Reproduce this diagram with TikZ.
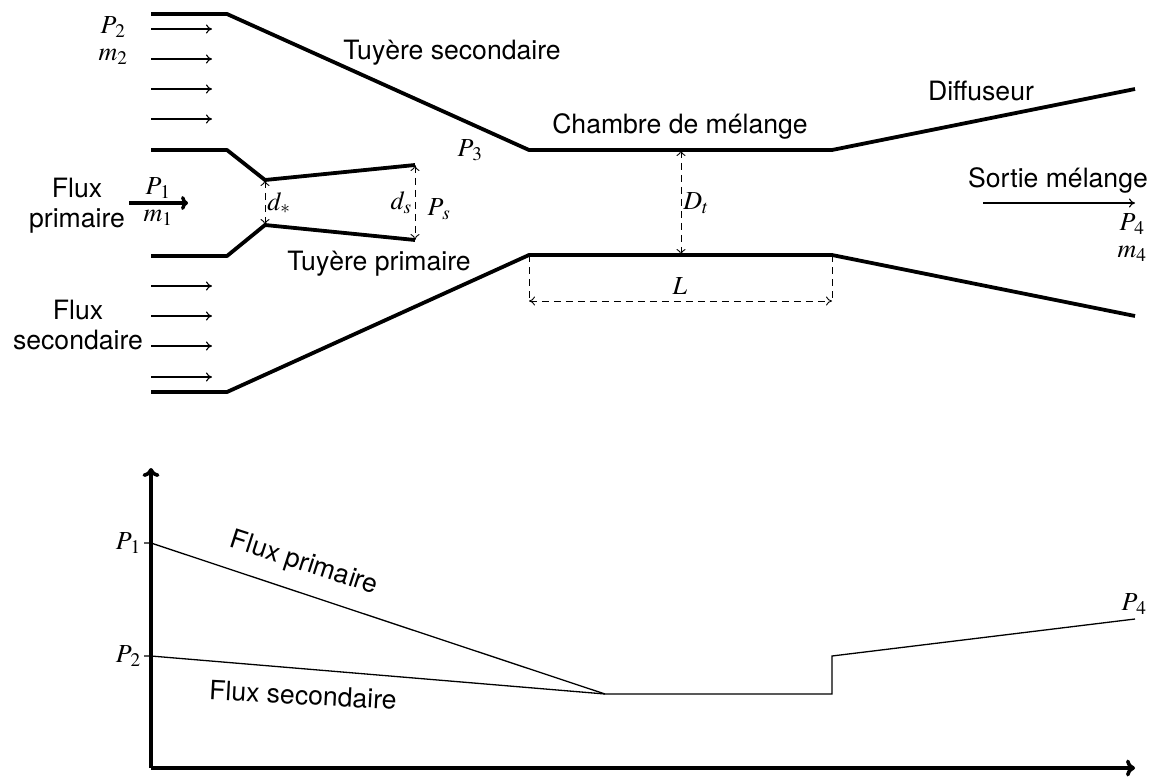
\documentclass[tikz,border=0pt]{standalone}
\usepackage{mathptmx}
\usepackage[no-math]{fontspec}
\setmainfont{TeX Gyre Heros}
\usetikzlibrary{arrows.meta}
\tikzset{
  wall/.style={line width=3.8pt,line join=round},
  flow/.style={line width=1.1pt,-{To[length=6pt,width=9pt]}},
  axisline/.style={line width=3.6pt,-{To[length=9pt,width=17pt]}},
  curve/.style={line width=1.3pt},
  dim/.style={line width=0.9pt,dash pattern=on 7pt off 5pt,{To[length=6pt,width=9pt]}-{To[length=6pt,width=9pt]}},
  guide/.style={line width=0.9pt,dash pattern=on 7pt off 5pt},
  lab/.style={font=\fontsize{26.6}{30}\selectfont,inner sep=0pt,align=center},
  mth/.style={font=\fontsize{26}{30}\selectfont,inner sep=0pt},
}
\begin{document}
\begin{tikzpicture}[x=1pt,y=-1pt]
\useasboundingbox (0,0) rectangle (1152,777);
% outer walls
\coordinate (a1) at (151,14); \coordinate (a2) at (227,14); \coordinate (a3) at (529,150); \coordinate (a4) at (832,150); \coordinate (a5) at (1135,89);
\coordinate (b1) at (151,392); \coordinate (b2) at (227,392); \coordinate (b3) at (529,255); \coordinate (b4) at (832,255); \coordinate (b5) at (1135,316);
\draw[wall] (a1)--(a2)--(a3)--(a4)--(a5);
\draw[wall] (b1)--(b2)--(b3)--(b4)--(b5);
% primary nozzle
\coordinate (c1) at (151,150); \coordinate (c2) at (227,150); \coordinate (c3) at (265,180); \coordinate (c4) at (415,165);
\coordinate (d1) at (151,256); \coordinate (d2) at (227,256); \coordinate (d3) at (265,225); \coordinate (d4) at (415,240);
\draw[wall] (c1)--(c2)--(c3)--(c4);
\draw[wall] (d1)--(d2)--(d3)--(d4);
% flow arrows
\foreach \y/\n in {29/1,59/2,89/3,119/4,286/5,316/6,346/7,377/8}{
  \coordinate (fs\n) at (151,\y); \coordinate (fe\n) at (212,\y);
  \draw[flow] (fs\n)--(fe\n);
}
\coordinate (ps) at (129,203); \coordinate (pe) at (188,203);
\draw[line width=3.4pt,-{To[length=7pt,width=14pt]}] (ps)--(pe);
\coordinate (os) at (983,203); \coordinate (oe) at (1135,203);
\draw[flow] (os)--(oe);
% dimensions
\draw[dim] (c3)--(d3);
\draw[dim] (c4)--(d4);
\coordinate (dt1) at (681,150); \coordinate (dt2) at (681,255);
\draw[dim] (dt1)--(dt2);
\coordinate (l1) at (529,301); \coordinate (l2) at (832,301);
\draw[dim] (l1)--(l2);
\draw[guide] (b3)--(l1);
\draw[guide] (b4)--(l2);
% text, top
\node[mth] (tP2) at (113,27) {$P_{\,2}$};
\node[mth] (tm2) at (113,57) {$m_2$};
\node[lab] (t1) at (452,53) {Tuyère secondaire};
\node[mth] (tP3) at (470,150) {$P_{\,3}$};
\node[lab] (t2) at (680,126) {Chambre de mélange};
\node[lab] (t3) at (981,91) {Diffuseur};
\node[lab] (t4) at (1058,180) {Sortie mélange};
\node[mth] (tP4a) at (1132,224) {$P_{\,4}$};
\node[mth] (tm4) at (1132,254) {$m_4$};
\node[lab] (t5) at (77,206) {Flux\\primaire};
\node[mth] (tP1a) at (158,188) {$P_{\,1}$};
\node[mth] (tm1) at (158,218) {$m_1$};
\node[mth] (tds) at (279,203) {$d_*$};
\node[mth] (tdss) at (401,203) {$d_s$};
\node[mth] (tPs) at (439,209) {$P_{\,s}$};
\node[lab] (t6) at (379,264) {Tuyère primaire};
\node[lab] (t7) at (78,325) {Flux\\secondaire};
\node[mth] (tDt) at (696,203) {$D_t$};
\node[mth] (tL) at (680,286) {$L$};
% plot
\coordinate (o) at (151,768); \coordinate (yt) at (151,468); \coordinate (xt) at (1135,768);
\draw[axisline] (o)--(yt);
\draw[axisline] (o)--(xt);
\coordinate (p1) at (151,543); \coordinate (p2) at (151,656); \coordinate (m) at (605,694);
\coordinate (n) at (832,694); \coordinate (q) at (832,656); \coordinate (r) at (1135,619);
\coordinate (k1) at (144,543); \coordinate (k2) at (144,656);
\draw[curve] (k1)--(p1)--(m)--(n)--(q)--(r);
\draw[curve] (k2)--(p2)--(m);
\node[mth,anchor=east] (yP1) at (141,543) {$P_{\,1}$};
\node[mth,anchor=east] (yP2) at (141,656) {$P_{\,2}$};
\node[mth] (tP4b) at (1134,604) {$P_{\,4}$};
\node[lab,rotate=-18] (t8) at (304,564) {Flux primaire};
\node[lab,rotate=-3] (t9) at (303,695) {Flux secondaire};
\end{tikzpicture}
\end{document}
